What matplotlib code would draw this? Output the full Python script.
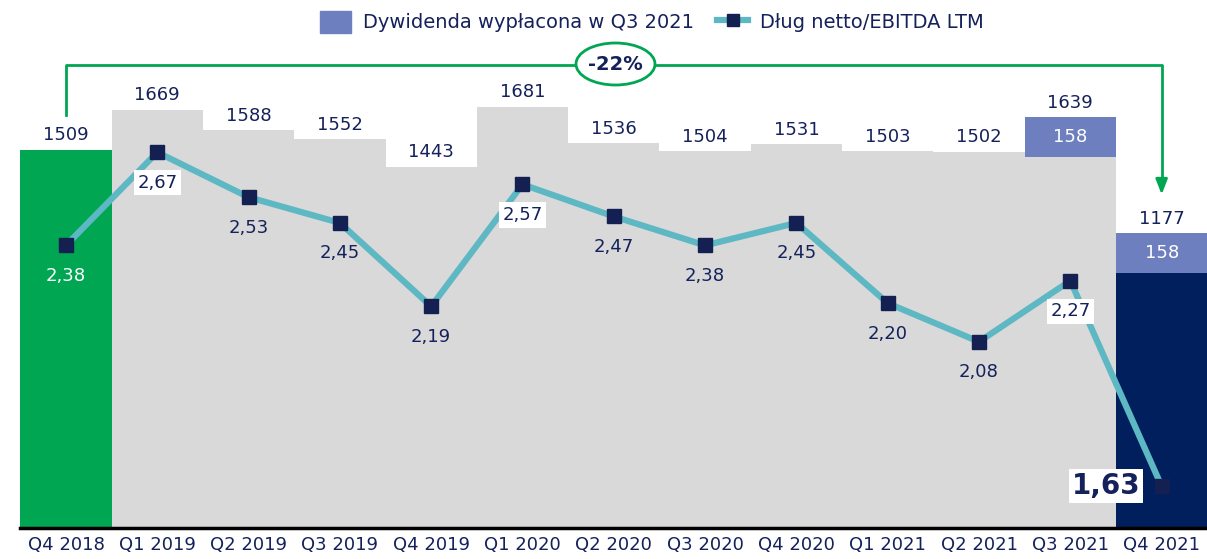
import numpy as np
import matplotlib.pyplot as plt
import matplotlib.patches as mpatches
from matplotlib.lines import Line2D

# dane
kwartaly = ['Q4 2018', 'Q1 2019', 'Q2 2019', 'Q3 2019', 'Q4 2019', 'Q1 2020',
            'Q2 2020', 'Q3 2020', 'Q4 2020', 'Q1 2021', 'Q2 2021', 'Q3 2021', 'Q4 2021']
dlug_netto = [1509, 1669, 1588, 1552, 1443, 1681, 1536, 1504, 1531, 1503, 1502, 1639, 1177]
dywidenda = [0, 0, 0, 0, 0, 0, 0, 0, 0, 0, 0, 158, 158]
dlug_ebitda = [2.38, 2.67, 2.53, 2.45, 2.19, 2.57, 2.47, 2.38, 2.45, 2.20, 2.08, 2.27, 1.63]
zmiana = '-22%'

# kolory
NAVY_TXT = '#14215A'
GREEN = '#00A651'
GRAY = '#D9D9D9'
PURPLE = '#6E7FBF'
NAVY = '#001F5C'
TEAL = '#5DB8C4'
MARKER = '#141F52'

kolory = [GREEN] + [GRAY] * 11 + [NAVY]
baza = np.array(dlug_netto) - np.array(dywidenda)
x = np.arange(len(kwartaly))

fig = plt.figure(figsize=(12.07, 5.59), dpi=100)
ax = fig.add_axes([20.3 / 1207, 31 / 559, 1187 / 1207, 501 / 559])

ax.bar(x, baza, width=1.0, color=kolory, zorder=1)
ax.bar(x, dywidenda, bottom=baza, width=1.0, color=PURPLE, zorder=1)

for i in range(len(x)):
    ax.annotate(str(dlug_netto[i]), (x[i], dlug_netto[i]), xytext=(0, 4),
                textcoords='offset points', ha='center', va='bottom',
                fontsize=13, color=NAVY_TXT)
    if dywidenda[i] > 0:
        ax.text(x[i], baza[i] + dywidenda[i] / 2, str(dywidenda[i]),
                ha='center', va='center', fontsize=13, color='white')

ax.set_xlim(-0.5, len(x) - 0.5)
ax.set_ylim(0, 2000)
ax.set_xticks(x)
ax.set_xticklabels(kwartaly, fontsize=13, color=NAVY_TXT)
ax.tick_params(axis='x', length=0, pad=6)
ax.set_yticks([])
for s in ['top', 'left', 'right']:
    ax.spines[s].set_visible(False)
ax.spines['bottom'].set_linewidth(2.5)
ax.spines['bottom'].set_color('black')

# linia na drugiej osi
ax2 = ax.twinx()
ax2.plot(x, dlug_ebitda, color=TEAL, lw=4.5, zorder=3)
ax2.plot(x, dlug_ebitda, ls='none', marker='s', ms=10, color=MARKER, zorder=4)
ax2.set_ylim(1.5, 3.06)
ax2.set_yticks([])
for s in ax2.spines.values():
    s.set_visible(False)

z_ramka = [1, 5, 11]
for i, v in enumerate(dlug_ebitda):
    tekst = f'{v:.2f}'.replace('.', ',')
    if i == len(x) - 1:
        ax2.annotate(tekst, (x[i], v), xytext=(-40, 0), textcoords='offset points',
                     ha='center', va='center', fontsize=20, fontweight='bold',
                     color=NAVY_TXT, zorder=6,
                     bbox=dict(boxstyle='square,pad=0.1', fc='white', ec='none'))
        continue
    kw = dict(ha='center', va='center', fontsize=13, zorder=6,
              color='white' if i == 0 else NAVY_TXT)
    if i in z_ramka:
        kw['bbox'] = dict(boxstyle='square,pad=0.2', fc='white', ec='none')
    ax2.annotate(tekst, (x[i], v), xytext=(0, -22), textcoords='offset points', **kw)

# klamra -22%
y_gora = 1848
ax.plot([0, 0, len(x) - 1, len(x) - 1], [1650, y_gora, y_gora, 1380],
        color=GREEN, lw=2, clip_on=False, zorder=2)
ax.annotate('', xy=(len(x) - 1, 1320), xytext=(len(x) - 1, 1400),
            arrowprops=dict(arrowstyle='-|>,head_width=0.35,head_length=0.9',
                            color=GREEN, lw=2), zorder=2)
elipsa = mpatches.Ellipse((615.5 / 1207, 1 - 64 / 559), 79 / 1207, 42 / 559,
                          transform=fig.transFigure, fc='white', ec=GREEN, lw=2,
                          zorder=5)
fig.patches.append(elipsa)
fig.text(615.5 / 1207, 1 - 64 / 559, zmiana, ha='center', va='center', fontsize=14,
         fontweight='bold', color=NAVY_TXT, zorder=6)

# legenda
uchwyty = [
    mpatches.Patch(color=PURPLE, label='Dywidenda wypłacona w Q3 2021'),
    Line2D([0], [0], color=TEAL, lw=4.5, marker='s', ms=9,
           markerfacecolor=MARKER, markeredgecolor=MARKER,
           label='Dług netto/EBITDA LTM'),
]
fig.legend(handles=uchwyty, loc='center', bbox_to_anchor=(652 / 1207, 1 - 22 / 559),
           ncol=2, frameon=False, fontsize=14, labelcolor=NAVY_TXT,
           handlelength=1.6, handleheight=1.4, columnspacing=1.2, handletextpad=0.6)

plt.savefig('out.png', dpi=100)
